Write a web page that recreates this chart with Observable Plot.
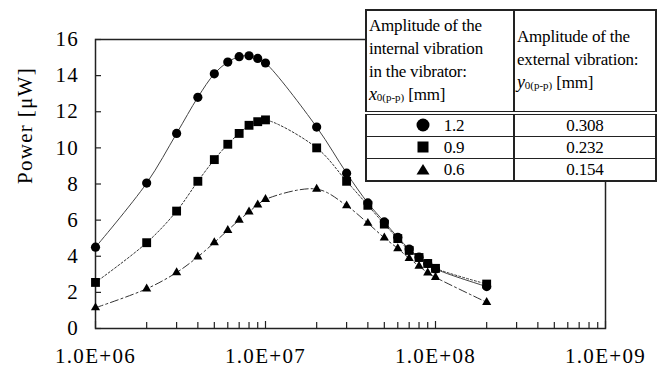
<!DOCTYPE html>
<html><head><meta charset="utf-8">
<script src="https://cdn.jsdelivr.net/npm/d3@7"></script>
<script src="https://cdn.jsdelivr.net/npm/@observablehq/plot@0.6"></script>
<style>
html,body{margin:0;padding:0;background:#fff;}
#wrap{position:relative;width:662px;height:369px;overflow:hidden;}
#leg{position:absolute;left:365px;top:9px;border-collapse:collapse;background:#fff;
  font-family:'Liberation Serif','Times New Roman',serif;font-size:17px;color:#000;
  border:2px solid #222;letter-spacing:-0.2px;}
#leg th,#leg td{font-family:inherit;border:1px solid #222;padding:0 2px;font-weight:normal;}
#leg th{text-align:left;vertical-align:middle;line-height:23px;height:100px;border-bottom:4px double #222;}
#leg td{height:21px;line-height:21px;text-align:center;}
#leg th.c1,#leg td.c1{width:142px;border-right:2px solid #222;}
#leg th.c2{width:136px;}
#leg sub{font-size:11px;vertical-align:-1px;letter-spacing:0;}
#leg i{font-style:italic;font-size:18px;}
#leg svg{vertical-align:-1px;margin-right:14px;}
</style></head><body><div id="wrap"></div>
<script>
// frequency (x) and power [µW] for each internal amplitude
const frequency = [1e6,2e6,3e6,4e6,5e6,6e6,7e6,8e6,9e6,1e7,2e7,3e7,4e7,5e7,6e7,7e7,8e7,9e7,1e8,2e8];
const power12 = [4.5,8.05,10.8,12.8,14.1,14.75,15.05,15.1,14.95,14.7,11.15,8.6,6.95,5.9,5.05,4.4,3.95,3.6,3.3,2.32];
const power09 = [2.55,4.75,6.5,8.15,9.35,10.2,10.8,11.25,11.45,11.55,10.0,8.15,6.82,5.78,4.98,4.32,3.93,3.6,3.33,2.46];
const power06 = [1.15,2.2,3.1,3.97,4.76,5.44,6.0,6.46,6.85,7.15,7.72,6.8,5.83,5.02,4.43,3.88,3.46,3.08,2.83,1.45];
const yTicks = [0,2,4,6,8,10,12,14,16];
const xMajor = [1e6,1e7,1e8,1e9];
const xLabels = ["1.0E+06","1.0E+07","1.0E+08","1.0E+09"];
const xMinor = [1e6,1e7,1e8].flatMap(d => [2,3,4,5,6,7,8,9].map(k => k*d));
const internalAmp = ["1.2","0.9","0.6"];
const externalAmp = ["0.308","0.232","0.154"];
const yTitle = "Power [\u03bcW]";

const rows = vals => frequency.map((f,i) => ({f, p: vals[i]}));
const d12 = rows(power12), d09 = rows(power09), d06 = rows(power06);

const chart = Plot.plot({
  width: 662, height: 369,
  marginLeft: 95, marginRight: 57, marginTop: 39, marginBottom: 41,
  style: {fontFamily: '"Liberation Serif", "Times New Roman", serif', fontSize: "21px", letterSpacing: "1.3px", color: "#000", background: "#fff", overflow: "visible"},
  x: {type: "log", domain: [1e6, 1e9]},
  y: {domain: [0, 16]},
  marks: [
    Plot.frame({stroke: "#222", strokeWidth: 1.5}),
    Plot.axisY({ticks: yTicks, tickSize: -6, tickPadding: 22.5, label: null, stroke: "#222", strokeWidth: 1.2}),
    Plot.axisX({ticks: xMajor, tickFormat: d => xLabels[xMajor.indexOf(d)], tickSize: -7, tickPadding: 27, label: null, stroke: "#222", strokeWidth: 1.2}),
    Plot.axisX({ticks: xMinor, tickFormat: () => "", tickSize: -6, label: null, stroke: "#222", strokeWidth: 1.2}),
    Plot.line(d06, {x: "f", y: "p", curve: "catmull-rom", stroke: "#333", strokeWidth: 1, strokeDasharray: "8,3,2,3"}),
    Plot.line(d09, {x: "f", y: "p", curve: "catmull-rom", stroke: "#333", strokeWidth: 1, strokeDasharray: "2,2"}),
    Plot.line(d12, {x: "f", y: "p", curve: "catmull-rom", stroke: "#444", strokeWidth: 1}),
    Plot.dot(d06, {x: "f", y: "p", symbol: "triangle", r: 3.4, fill: "#000"}),
    Plot.dot(d09, {x: "f", y: "p", symbol: "square", r: 5, fill: "#000"}),
    Plot.dot(d12, {x: "f", y: "p", symbol: "circle", r: 4.6, fill: "#000"}),
    Plot.text([yTitle], {frameAnchor: "left", rotate: -90, dx: -70, lineAnchor: "middle", fontSize: 21, style: "letter-spacing:0.8px"})
  ]
});
const wrap = document.getElementById("wrap");
wrap.appendChild(chart);

const marker = [
  '<svg width="14" height="14" viewBox="0 0 14 14"><circle cx="7" cy="7" r="6.5" fill="#000"/></svg>',
  '<svg width="14" height="14" viewBox="0 0 14 14"><rect x="1.5" y="1.5" width="11" height="11" fill="#000"/></svg>',
  '<svg width="14" height="14" viewBox="0 0 14 14"><path d="M7,2 L13.5,12.5 L0.5,12.5 Z" fill="#000"/></svg>'
];
const table = document.createElement("table");
table.id = "leg";
let html = '<tr><th class="c1">Amplitude of the<br>internal vibration<br>in the vibrator:<br><i>x</i><sub>0(p-p)</sub> [mm]</th>' +
  '<th class="c2">Amplitude of the<br>external vibration:<br><i>y</i><sub>0(p-p)</sub> [mm]</th></tr>';
internalAmp.forEach((a, i) => {
  html += `<tr><td class="c1">${marker[i]}${a}</td><td>${externalAmp[i]}</td></tr>`;
});
table.innerHTML = html;
wrap.appendChild(table);
</script></body></html>
